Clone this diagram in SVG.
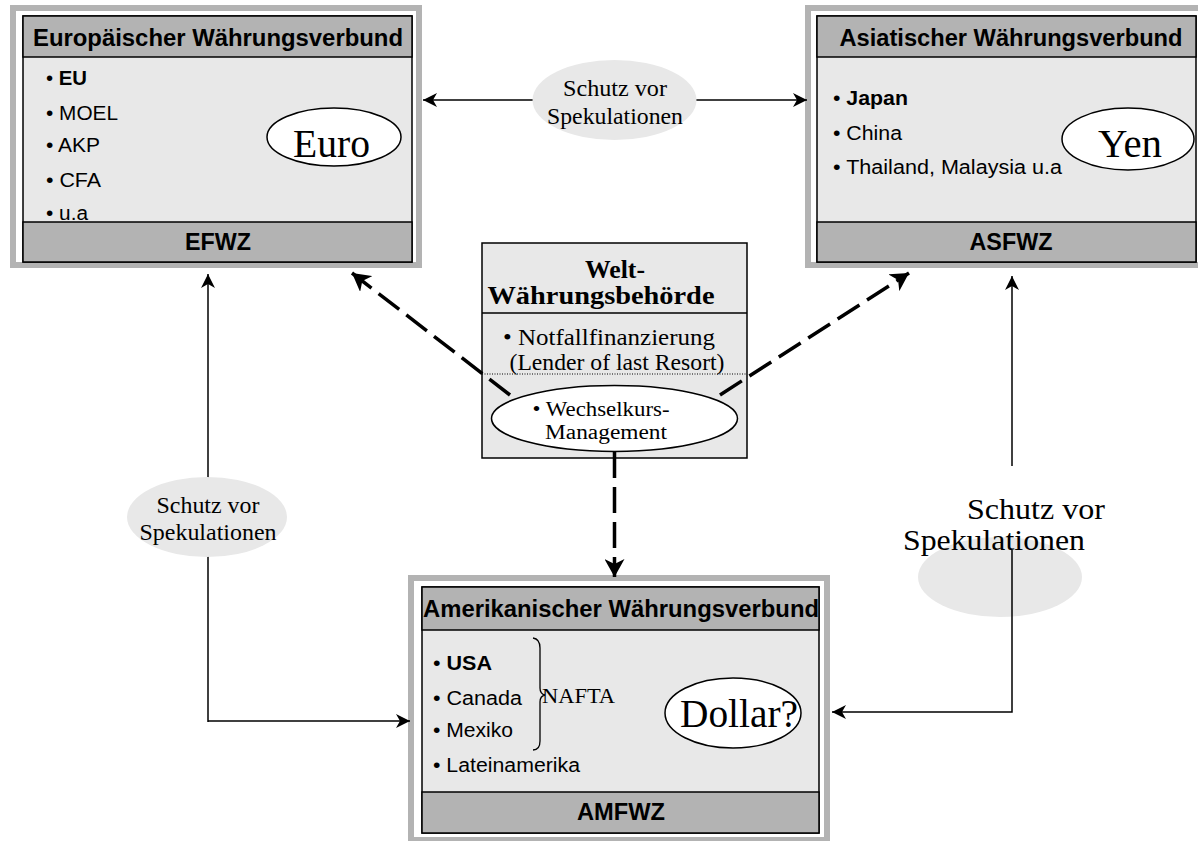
<svg xmlns="http://www.w3.org/2000/svg" width="1198" height="841" viewBox="0 0 1198 841">
<style>
.frame{fill:#ffffff;stroke:#b3b3b3;stroke-width:6}
.hdr{fill:#b3b3b3;stroke:#000;stroke-width:1.5}
.body{fill:#e8e8e8;stroke:#000;stroke-width:1.5}
.sans{font-family:"Liberation Sans",Arial,sans-serif;fill:#000}
.serif{font-family:"Liberation Serif","Times New Roman",serif;fill:#000}
.title{font-size:23px;font-weight:bold;text-anchor:middle}
.item{font-size:20px}
.cur{fill:#fff;stroke:#000;stroke-width:1.5}
.lab{fill:#e8e8e8;stroke:none}
.conn{fill:none;stroke:#000;stroke-width:1.5}
.dash{fill:none;stroke:#000;stroke-width:3.5;stroke-dasharray:26 9}
</style>
<defs>
<marker id="ah" markerUnits="userSpaceOnUse" markerWidth="14" markerHeight="14" refX="14" refY="7" orient="auto-start-reverse">
<path d="M0,0 L14,7 L0,14 L4,7 Z" fill="#000"/>
</marker>
<marker id="ahd" markerUnits="userSpaceOnUse" markerWidth="18" markerHeight="20" refX="18" refY="10" orient="auto">
<path d="M0,0 L18,10 L0,20 L5,10 Z" fill="#000"/>
</marker>
</defs>
<rect width="1198" height="841" fill="#fff"/>

<!-- EFWZ -->
<g id="efwz">
<rect class="frame" x="13" y="8" width="406" height="257"/>
<rect class="body" x="23" y="16" width="389" height="246"/>
<rect class="hdr" x="23" y="16" width="389" height="41"/>
<rect class="hdr" x="23" y="222" width="389" height="40"/>
<text class="sans title" x="218" y="46" textLength="370" lengthAdjust="spacingAndGlyphs">Europäischer Währungsverbund</text>
<text class="sans item" x="46" y="85" textLength="41" lengthAdjust="spacingAndGlyphs">• <tspan font-weight="bold">EU</tspan></text>
<text class="sans item" x="46" y="120" textLength="72" lengthAdjust="spacingAndGlyphs">• MOEL</text>
<text class="sans item" x="46" y="152" textLength="54" lengthAdjust="spacingAndGlyphs">• AKP</text>
<text class="sans item" x="46" y="187" textLength="55" lengthAdjust="spacingAndGlyphs">• CFA</text>
<text class="sans item" x="46" y="220" textLength="42" lengthAdjust="spacingAndGlyphs">• u.a</text>
<ellipse class="cur" cx="334" cy="137" rx="67" ry="29"/>
<text class="serif" x="293" y="157" font-size="39" textLength="77" lengthAdjust="spacingAndGlyphs">Euro</text>
<text class="sans title" x="218" y="250" textLength="66" lengthAdjust="spacingAndGlyphs">EFWZ</text>
</g>

<!-- ASFWZ -->
<g id="asfwz">
<rect class="frame" x="808" y="8" width="400" height="257"/>
<rect class="body" x="817" y="16" width="379" height="246"/>
<rect class="hdr" x="817" y="16" width="379" height="41"/>
<rect class="hdr" x="817" y="222" width="379" height="40"/>
<text class="sans title" x="1011" y="46" textLength="343" lengthAdjust="spacingAndGlyphs">Asiatischer Währungsverbund</text>
<text class="sans item" x="833" y="105" textLength="75" lengthAdjust="spacingAndGlyphs">• <tspan font-weight="bold">Japan</tspan></text>
<text class="sans item" x="833" y="140" textLength="69" lengthAdjust="spacingAndGlyphs">• China</text>
<text class="sans item" x="833" y="174" textLength="229" lengthAdjust="spacingAndGlyphs">• Thailand, Malaysia u.a</text>
<ellipse class="cur" cx="1128" cy="139" rx="66" ry="31"/>
<text class="serif" x="1098" y="157" font-size="39" textLength="64" lengthAdjust="spacingAndGlyphs">Yen</text>
<text class="sans title" x="1011" y="250" textLength="83" lengthAdjust="spacingAndGlyphs">ASFWZ</text>
</g>

<!-- AMFWZ -->
<g id="amfwz">
<rect class="frame" x="411" y="578" width="416" height="262"/>
<rect class="body" x="422" y="587" width="397" height="246"/>
<rect class="hdr" x="422" y="587" width="397" height="43"/>
<rect class="hdr" x="422" y="792" width="397" height="41"/>
<text class="sans title" x="621" y="617" textLength="396" lengthAdjust="spacingAndGlyphs">Amerikanischer Währungsverbund</text>
<text class="sans item" x="433" y="670" textLength="59" lengthAdjust="spacingAndGlyphs">• <tspan font-weight="bold">USA</tspan></text>
<text class="sans item" x="433" y="705" textLength="89" lengthAdjust="spacingAndGlyphs">• Canada</text>
<text class="sans item" x="433" y="737" textLength="80" lengthAdjust="spacingAndGlyphs">• Mexiko</text>
<text class="sans item" x="433" y="772" textLength="147" lengthAdjust="spacingAndGlyphs">• Lateinamerika</text>
<path d="M533,638 Q540,639 540,648 L540,688 Q540,694 545,695 Q540,696 540,702 L540,741 Q540,750 533,750" fill="none" stroke="#000" stroke-width="1.3"/>
<text class="serif" x="542" y="703" font-size="20" textLength="73" lengthAdjust="spacingAndGlyphs">NAFTA</text>
<ellipse class="cur" cx="733" cy="713" rx="68" ry="35"/>
<text class="serif" x="680" y="727" font-size="41" textLength="118" lengthAdjust="spacingAndGlyphs">Dollar?</text>
<text class="sans title" x="621" y="820" textLength="88" lengthAdjust="spacingAndGlyphs">AMFWZ</text>
</g>

<!-- Welt-Währungsbehörde -->
<g id="wwb">
<rect x="482" y="243" width="265" height="215" fill="#e8e8e8" stroke="#000" stroke-width="1.5"/>
<line x1="482" y1="313" x2="747" y2="313" stroke="#000" stroke-width="1.5"/>
<line x1="482" y1="374" x2="747" y2="374" stroke="#000" stroke-width="1" stroke-dasharray="1 1.5"/>
<text class="serif" x="615" y="278" font-size="25" font-weight="bold" text-anchor="middle" textLength="60" lengthAdjust="spacingAndGlyphs">Welt-</text>
<text class="serif" x="601" y="304" font-size="25" font-weight="bold" text-anchor="middle" textLength="227" lengthAdjust="spacingAndGlyphs">Währungsbehörde</text>
<text class="serif" x="609" y="345" font-size="23" text-anchor="middle" textLength="212" lengthAdjust="spacingAndGlyphs">• Notfallfinanzierung</text>
<text class="serif" x="617" y="370" font-size="23" text-anchor="middle" textLength="215" lengthAdjust="spacingAndGlyphs">(Lender of last Resort)</text>
<ellipse class="cur" cx="614.5" cy="418.5" rx="123" ry="33"/>
<text class="serif" x="601" y="416" font-size="20" text-anchor="middle" textLength="137" lengthAdjust="spacingAndGlyphs">• Wechselkurs-</text>
<text class="serif" x="606" y="439" font-size="20" text-anchor="middle" textLength="122" lengthAdjust="spacingAndGlyphs">Management</text>
</g>

<!-- right label ellipse (under its connector) -->
<g id="lab-right-bg">
<ellipse class="lab" cx="1000" cy="577" rx="82" ry="40"/>
</g>

<!-- connectors -->
<g id="connectors">
<path class="conn" d="M423,100 H807" marker-start="url(#ah)" marker-end="url(#ah)"/>
<path class="conn" d="M208,722 V274" marker-end="url(#ah)"/>
<path class="conn" d="M208,721 H410" marker-end="url(#ah)"/>
<path class="conn" d="M1012,466 V276" marker-end="url(#ah)"/>
<path class="conn" d="M1012,550 V712 H832" marker-end="url(#ah)"/>
<path class="dash" d="M510,395 L352,273" marker-end="url(#ahd)"/>
<path class="dash" d="M720,395 L909,273" marker-end="url(#ahd)"/>
<path class="dash" d="M614.5,452 V577" marker-end="url(#ahd)"/>
</g>

<!-- labels -->
<g id="lab-top">
<ellipse class="lab" cx="614.5" cy="100" rx="82" ry="40"/>
<text class="serif" x="615" y="96" font-size="23" text-anchor="middle" textLength="104" lengthAdjust="spacingAndGlyphs">Schutz vor</text>
<text class="serif" x="615" y="124" font-size="23" text-anchor="middle" textLength="136" lengthAdjust="spacingAndGlyphs">Spekulationen</text>
</g>
<g id="lab-left">
<ellipse class="lab" cx="207" cy="517" rx="80" ry="40"/>
<text class="serif" x="208" y="513" font-size="23" text-anchor="middle" textLength="103" lengthAdjust="spacingAndGlyphs">Schutz vor</text>
<text class="serif" x="208" y="540" font-size="23" text-anchor="middle" textLength="137" lengthAdjust="spacingAndGlyphs">Spekulationen</text>
</g>
<g id="lab-right">
<text class="serif" x="967" y="519" font-size="29" textLength="138" lengthAdjust="spacingAndGlyphs">Schutz vor</text>
<text class="serif" x="903" y="550" font-size="29" textLength="182" lengthAdjust="spacingAndGlyphs">Spekulationen</text>
</g>
</svg>
